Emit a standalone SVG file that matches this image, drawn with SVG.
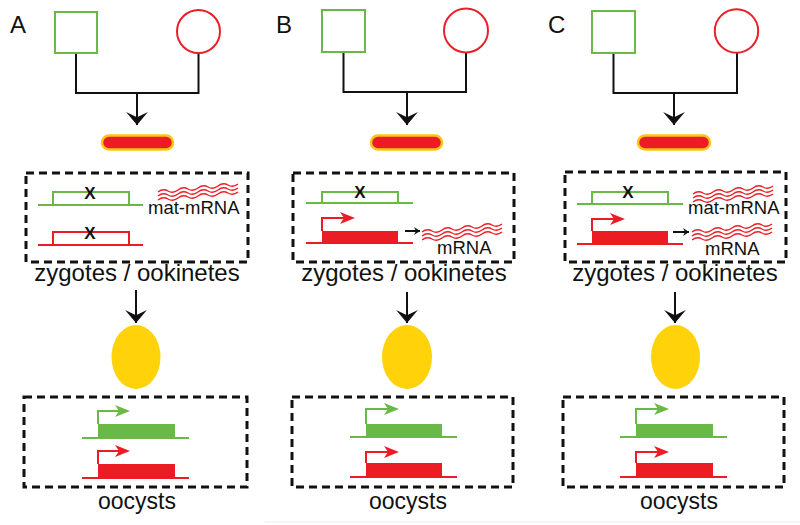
<svg xmlns="http://www.w3.org/2000/svg" xmlns:xlink="http://www.w3.org/1999/xlink" width="800" height="525" viewBox="0 0 800 525">
<style>
  text { font-family: "Liberation Sans", Arial, sans-serif; fill: #111; }
  .lbl { font-size: 24px; }
  .cap { font-size: 24px; text-anchor: middle; }
  .oc { font-size: 23px; text-anchor: middle; }
  .rna { font-size: 18.5px; }
  .x { font-size: 17px; font-weight: bold; text-anchor: middle; }
  .male { fill: #fff; stroke: #6ab845; stroke-width: 2; }
  .female { fill: #fff; stroke: #e8202a; stroke-width: 2; }
  .pill { fill: #ec1c24; stroke: #fdc511; stroke-width: 2.5; }
  .egg { fill: #ffd20a; }
  .dash { fill: none; stroke: #111; stroke-width: 3; stroke-dasharray: 8 5; }
  .con { fill: none; stroke: #111; stroke-width: 2; }
  .gl { fill: none; stroke: #6ab845; stroke-width: 2; }
  .rl { fill: none; stroke: #ec1c24; stroke-width: 2; }
  .gf { fill: #6ab845; }
  .rf { fill: #ec1c24; }
  .wave { fill: none; stroke: #ec1c24; stroke-width: 1.3; }
</style>
<defs>
  <marker id="ah" markerUnits="userSpaceOnUse" markerWidth="24" markerHeight="24" viewBox="-13 -11 14 22" refX="0" refY="0" orient="auto">
    <path d="M0,0 L-12,-10 L-7,0 L-12,10 Z" fill="#111"/>
  </marker>
  <marker id="ahs" markerUnits="userSpaceOnUse" markerWidth="10" markerHeight="10" viewBox="-7 -5 8 10" refX="0" refY="0" orient="auto">
    <path d="M0,0 L-6,-4 L-4,0 L-6,4 Z" fill="#111"/>
  </marker>
  <path id="w1" class="wave" d="M0,8 q5,-4 10,-1 t10,-1 t10,-1 t10,-1 t10,-1 t10,-1 t10,-1 t10,-1"/>
  <g id="waves">
    <use xlink:href="#w1" href="#w1" x="0" y="0"/>
    <use xlink:href="#w1" href="#w1" x="0" y="4"/>
    <use xlink:href="#w1" href="#w1" x="0" y="8"/>
  </g>
</defs>

<rect x="0" y="0" width="800" height="525" fill="#fff"/>
<line x1="265" y1="522" x2="800" y2="522" stroke="#ececec" stroke-width="1"/>

<g id="connectors">
  <path class="con" d="M76,53 V93 H198.5 V53"/>
  <path class="con" d="M137,93 V125" marker-end="url(#ah)"/>
  <path class="con" d="M136,290 V323" marker-end="url(#ah)"/>
  <path class="con" d="M343.5,52 V92 H466 V52.5"/>
  <path class="con" d="M407,92 V125" marker-end="url(#ah)"/>
  <path class="con" d="M407,292 V323" marker-end="url(#ah)"/>
  <path class="con" d="M613.5,53 V93 H737 V53"/>
  <path class="con" d="M674,93 V125" marker-end="url(#ah)"/>
  <path class="con" d="M675,292 V323" marker-end="url(#ah)"/>
  <path class="con" d="M405,231 H420" marker-end="url(#ahs)"/>
  <path class="con" d="M673,232 H689" marker-end="url(#ahs)"/>
</g>

<!-- Panel A -->
<g id="label-A"><text class="lbl" x="10" y="33">A</text></g>
<g id="male-A"><rect class="male" x="55" y="12" width="42" height="41"/></g>
<g id="female-A"><circle class="female" cx="198.5" cy="31.5" r="21.5"/></g>
<g id="zygote-A"><rect class="pill" x="102" y="135.5" width="71" height="14" rx="7"/></g>
<g id="zyg-box-A">
  <rect class="dash" x="26" y="173" width="222" height="89"/>
  <path class="gl" d="M38,205 H143 M53,205 V192 H129 V205"/>
  <text class="x" x="90" y="199">X</text>
  <path class="rl" d="M38,245 H143 M53,245 V232 H129 V245"/>
  <text class="x" x="90" y="239">X</text>
  <use xlink:href="#waves" href="#waves" transform="translate(158,184)"/>
  <text class="rna" x="148" y="214">mat-mRNA</text>
  <text class="cap" x="137" y="281">zygotes / ookinetes</text>
</g>
<g id="ookinete-A"><ellipse class="egg" cx="136" cy="357" rx="24.5" ry="32"/></g>
<g id="oocyst-A">
  <rect class="dash" x="24" y="397" width="223" height="90"/>
  <path class="gl" d="M82,438 H189 M98,424 V411 H119"/>
  <rect class="gf" x="98" y="424" width="77" height="14"/>
  <polygon class="gf" points="130,411 115,405 119,411 115,417"/>
  <path class="rl" d="M82,478 H189 M98,464 V451 H119"/>
  <rect class="rf" x="98" y="464" width="77" height="14"/>
  <polygon class="rf" points="130,451 115,445 119,451 115,457"/>
  <text class="oc" x="137" y="509">oocysts</text>
</g>

<!-- Panel B -->
<g id="label-B"><text class="lbl" x="276" y="33">B</text></g>
<g id="male-B"><rect class="male" x="322" y="10" width="43" height="42"/></g>
<g id="female-B"><circle class="female" cx="466" cy="30.5" r="22"/></g>
<g id="zygote-B"><rect class="pill" x="371" y="135.5" width="71" height="14" rx="7"/></g>
<g id="zyg-box-B">
  <rect class="dash" x="293" y="173" width="221" height="89"/>
  <path class="gl" d="M306,203 H413 M322,203 V192 H398 V203"/>
  <text class="x" x="360" y="198">X</text>
  <path class="rl" d="M306,243 H413 M322,231 V218 H344"/>
  <rect class="rf" x="322" y="231" width="76" height="12"/>
  <polygon class="rf" points="355,218 340,212 344,218 340,224"/>
  <use xlink:href="#waves" href="#waves" transform="translate(422,224)"/>
  <text class="rna" x="437" y="254">mRNA</text>
  <text class="cap" x="404" y="281">zygotes / ookinetes</text>
</g>
<g id="ookinete-B"><ellipse class="egg" cx="407" cy="357" rx="25" ry="32"/></g>
<g id="oocyst-B">
  <rect class="dash" x="292" y="397" width="221" height="90"/>
  <path class="gl" d="M350,437 H457 M366,424 V409 H388"/>
  <rect class="gf" x="366" y="424" width="76" height="13"/>
  <polygon class="gf" points="399,409 384,403 388,409 384,415"/>
  <path class="rl" d="M350,477 H457 M366,463 V452 H388"/>
  <rect class="rf" x="366" y="463" width="76" height="14"/>
  <polygon class="rf" points="399,452 384,446 388,452 384,458"/>
  <text class="oc" x="408" y="509">oocysts</text>
</g>

<!-- Panel C -->
<g id="label-C"><text class="lbl" x="548" y="33">C</text></g>
<g id="male-C"><rect class="male" x="592" y="11" width="43" height="42"/></g>
<g id="female-C"><circle class="female" cx="736.5" cy="31" r="21.7"/></g>
<g id="zygote-C"><rect class="pill" x="638" y="135.5" width="72" height="14" rx="7"/></g>
<g id="zyg-box-C">
  <rect class="dash" x="565" y="172" width="221" height="90"/>
  <path class="gl" d="M577,204 H683 M592,204 V192 H668 V204"/>
  <text class="x" x="628" y="198">X</text>
  <use xlink:href="#waves" href="#waves" transform="translate(693,186)"/>
  <text class="rna" x="688" y="214">mat-mRNA</text>
  <path class="rl" d="M577,244 H683 M592,231 V219 H614"/>
  <rect class="rf" x="592" y="231" width="76" height="13"/>
  <polygon class="rf" points="625,219 610,213 614,219 610,225"/>
  <use xlink:href="#waves" href="#waves" transform="translate(692,224)"/>
  <text class="rna" x="705" y="255">mRNA</text>
  <text class="cap" x="675" y="281">zygotes / ookinetes</text>
</g>
<g id="ookinete-C"><ellipse class="egg" cx="675.5" cy="357" rx="24.5" ry="32"/></g>
<g id="oocyst-C">
  <rect class="dash" x="563" y="397" width="221" height="90"/>
  <path class="gl" d="M620,437 H727 M636,424 V409 H658"/>
  <rect class="gf" x="636" y="424" width="77" height="13"/>
  <polygon class="gf" points="669,409 654,403 658,409 654,415"/>
  <path class="rl" d="M620,477 H727 M636,463 V452 H658"/>
  <rect class="rf" x="636" y="463" width="77" height="14"/>
  <polygon class="rf" points="669,452 654,446 658,452 654,458"/>
  <text class="oc" x="679" y="509">oocysts</text>
</g>
</svg>
